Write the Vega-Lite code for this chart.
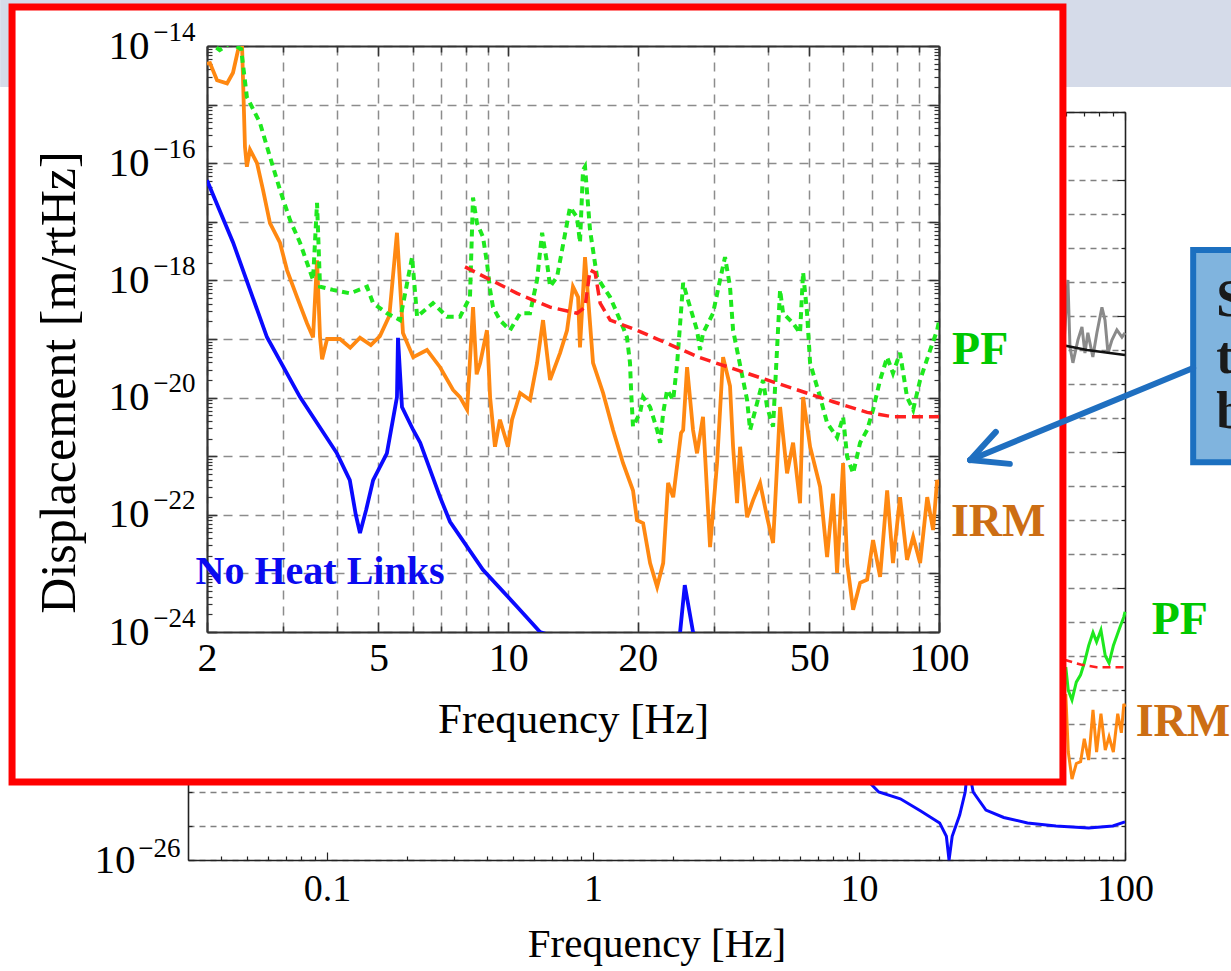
{
"$schema": "https://vega.github.io/schema/vega-lite/v6.json",
"padding": {"left": 207, "top": 45, "right": 1024, "bottom": 926},
"autosize": {"type": "none"},
"background": "#ffffff",
"spacing": 0,
"bounds": "flush",
"config": {
  "view": {"stroke": null},
  "axis": {"labelFont": "Liberation Serif", "titleFont": "Liberation Serif", "labelColor": "#000000", "titleColor": "#000000", "titleFontWeight": "normal", "labelFlush": false, "labelOverlap": false}
},
"datasets": {
"blue": [{"f":2.0,"d":5.1e-17},{"f":2.30,"d":4.4e-18},{"f":2.756,"d":1.07e-19},{"f":3.288,"d":1.02e-20},{"f":4.005,"d":1.12e-21},{"f":4.29,"d":3.9e-22},{"f":4.43,"d":1.0e-22},{"f":4.53,"d":4.9e-23},{"f":4.68,"d":1.2e-22},{"f":4.86,"d":3.9e-22},{"f":5.23,"d":1.12e-21},{"f":5.52,"d":1.02e-20},{"f":5.55,"d":1.05e-19},{"f":5.67,"d":6.9e-21},{"f":6.02,"d":2.8e-21},{"f":6.25,"d":1.7e-21},{"f":6.95,"d":2.0e-22},{"f":7.33,"d":7.6e-23},{"f":8.74,"d":1.15e-23},{"f":10.49,"d":2.7e-24},{"f":11.86,"d":1.0e-24},{"f":14.3,"d":6.3e-25},{"f":17.0,"d":2.8e-25},{"f":20.1,"d":1.23e-25},{"f":21.3,"d":5.0e-26},{"f":21.8,"d":1.0e-26},{"f":22.4,"d":5.0e-26},{"f":23.9,"d":2.1e-25},{"f":25.07,"d":1.0e-24},{"f":25.7,"d":6.3e-24},{"f":26.86,"d":1.0e-24},{"f":30.0,"d":2.95e-25},{"f":35,"d":1.78e-25},{"f":43,"d":1.23e-25},{"f":55,"d":1.0e-25},{"f":73,"d":8.7e-26},{"f":90,"d":1.0e-25},{"f":100,"d":1.32e-25}],
"orange": [{"f":2.0,"d":5.0e-15},{"f":2.032,"d":5.1e-15},{"f":2.11,"d":2.6e-15},{"f":2.226,"d":2.3e-15},{"f":2.298,"d":3.5e-15},{"f":2.361,"d":8.5e-15},{"f":2.41,"d":1.26e-14},{"f":2.45,"d":1.9e-16},{"f":2.475,"d":8.7e-17},{"f":2.517,"d":1.7e-16},{"f":2.613,"d":1.0e-16},{"f":2.698,"d":3.5e-17},{"f":2.80,"d":9.5e-18},{"f":2.954,"d":4.4e-18},{"f":3.067,"d":1.5e-18},{"f":3.236,"d":5.2e-19},{"f":3.413,"d":1.86e-19},{"f":3.525,"d":1.07e-19},{"f":3.601,"d":2.2e-18},{"f":3.659,"d":1.07e-19},{"f":3.70,"d":4.5e-20},{"f":3.80,"d":1.0e-19},{"f":4.07,"d":1.0e-19},{"f":4.30,"d":7.1e-20},{"f":4.53,"d":1.05e-19},{"f":4.80,"d":7.9e-20},{"f":5.04,"d":1.12e-19},{"f":5.30,"d":2.5e-19},{"f":5.52,"d":6.5e-18},{"f":5.70,"d":1.26e-19},{"f":6.02,"d":4.9e-20},{"f":6.48,"d":6.5e-20},{"f":6.95,"d":3.3e-20},{"f":7.45,"d":1.35e-20},{"f":7.73,"d":1.02e-20},{"f":8.03,"d":6.2e-21},{"f":8.29,"d":3.5e-19},{"f":8.45,"d":2.5e-20},{"f":8.61,"d":3.9e-20},{"f":8.93,"d":1.41e-19},{"f":9.08,"d":1.02e-20},{"f":9.32,"d":1.45e-21},{"f":9.57,"d":4.2e-21},{"f":9.99,"d":1.45e-21},{"f":10.21,"d":4.2e-21},{"f":10.66,"d":1.2e-20},{"f":11.24,"d":9.1e-21},{"f":11.67,"d":3.9e-20},{"f":12.05,"d":2.1e-19},{"f":12.51,"d":2.0e-20},{"f":13.20,"d":5.8e-20},{"f":13.70,"d":1.41e-19},{"f":14.14,"d":7.8e-19},{"f":14.53,"d":5.2e-19},{"f":14.68,"d":7.2e-20},{"f":15.08,"d":2.5e-18},{"f":15.74,"d":3.9e-20},{"f":16.61,"d":1.2e-20},{"f":17.52,"d":2.8e-21},{"f":18.48,"d":7.6e-22},{"f":19.49,"d":2.6e-22},{"f":19.91,"d":8.1e-23},{"f":20.57,"d":7.2e-23},{"f":21.35,"d":1.5e-23},{"f":22.17,"d":5.9e-24},{"f":22.90,"d":1.5e-23},{"f":23.51,"d":3.5e-22},{"f":24.16,"d":2.0e-22},{"f":25.20,"d":2.5e-21},{"f":25.48,"d":2.8e-21},{"f":26.02,"d":3.3e-20},{"f":26.86,"d":2.8e-21},{"f":27.44,"d":1.12e-21},{"f":28.33,"d":4.7e-21},{"f":29.42,"d":2.8e-23},{"f":30.54,"d":7.6e-22},{"f":31.54,"d":4.9e-20},{"f":32.73,"d":1.58e-20},{"f":33.27,"d":1.45e-21},{"f":33.99,"d":1.58e-22},{"f":34.54,"d":1.45e-21},{"f":35.86,"d":9.1e-23},{"f":37.03,"d":1.78e-22},{"f":38.44,"d":3.5e-22},{"f":39.90,"d":9.1e-23},{"f":41.20,"d":3.3e-23},{"f":42.77,"d":6.9e-21},{"f":44.40,"d":5.1e-22},{"f":45.85,"d":1.7e-21},{"f":47.59,"d":1.58e-22},{"f":48.37,"d":1.02e-20},{"f":50.21,"d":1.45e-21},{"f":52.97,"d":3.0e-22},{"f":54.99,"d":1.9e-23},{"f":56.76,"d":2.3e-22},{"f":58.0,"d":1.02e-23},{"f":59.9,"d":7.6e-22},{"f":61.2,"d":1.5e-23},{"f":63.2,"d":2.4e-24},{"f":65.6,"d":6.9e-24},{"f":68.1,"d":7.8e-24},{"f":70.3,"d":3.7e-23},{"f":73.0,"d":8.7e-24},{"f":75.8,"d":2.6e-22},{"f":78.2,"d":1.5e-23},{"f":81.2,"d":2.0e-22},{"f":84.3,"d":1.7e-23},{"f":87.1,"d":4.2e-23},{"f":90.4,"d":1.5e-23},{"f":93.9,"d":2.0e-22},{"f":96.9,"d":5.5e-23},{"f":99.0,"d":3.9e-22},{"f":100,"d":3.2e-22}],
"green": [{"f":2.0,"d":1.26e-14},{"f":2.14,"d":8.5e-15},{"f":2.26,"d":1.12e-14},{"f":2.40,"d":8.9e-15},{"f":2.475,"d":1.35e-15},{"f":2.654,"d":4.9e-16},{"f":2.80,"d":1.29e-16},{"f":2.954,"d":3.5e-17},{"f":3.117,"d":1.07e-17},{"f":3.288,"d":4.4e-18},{"f":3.413,"d":2.0e-18},{"f":3.525,"d":1.02e-18},{"f":3.601,"d":2.1e-17},{"f":3.659,"d":7.8e-19},{"f":3.921,"d":6.9e-19},{"f":4.295,"d":6.0e-19},{"f":4.703,"d":7.8e-19},{"f":4.857,"d":4.1e-19},{"f":5.234,"d":2.75e-19},{"f":5.610,"d":2.1e-19},{"f":5.985,"d":2.5e-18},{"f":6.147,"d":2.4e-19},{"f":6.692,"d":4.1e-19},{"f":7.214,"d":2.4e-19},{"f":7.733,"d":2.4e-19},{"f":8.155,"d":5.2e-19},{"f":8.287,"d":2.6e-17},{"f":8.465,"d":9.5e-18},{"f":8.742,"d":5.5e-18},{"f":8.93,"d":2.0e-18},{"f":9.08,"d":6.9e-19},{"f":9.22,"d":3.5e-19},{"f":9.57,"d":2.1e-19},{"f":10.10,"d":1.41e-19},{"f":10.66,"d":2.75e-19},{"f":11.24,"d":2.75e-19},{"f":11.67,"d":1.02e-18},{"f":11.99,"d":6.5e-18},{"f":12.31,"d":2.0e-18},{"f":12.51,"d":7.8e-19},{"f":12.99,"d":1.15e-18},{"f":13.70,"d":9.5e-18},{"f":13.92,"d":1.78e-17},{"f":14.45,"d":1.2e-17},{"f":14.68,"d":4.4e-18},{"f":14.92,"d":7.6e-17},{"f":15.08,"d":8.7e-17},{"f":15.49,"d":7.2e-18},{"f":16.08,"d":1.15e-18},{"f":16.61,"d":7.8e-19},{"f":17.24,"d":5.2e-19},{"f":17.90,"d":2.75e-19},{"f":18.48,"d":1.58e-19},{"f":18.87,"d":1.07e-19},{"f":19.18,"d":3.9e-20},{"f":19.30,"d":1.2e-20},{"f":19.49,"d":3.2e-21},{"f":20.24,"d":5.5e-21},{"f":20.57,"d":1.02e-20},{"f":21.35,"d":6.9e-21},{"f":22.17,"d":2.8e-21},{"f":22.53,"d":1.7e-21},{"f":22.90,"d":5.5e-21},{"f":23.39,"d":1.35e-20},{"f":24.16,"d":9.1e-21},{"f":24.68,"d":3.9e-20},{"f":25.48,"d":9.1e-19},{"f":26.02,"d":5.2e-19},{"f":27.44,"d":1.41e-19},{"f":27.88,"d":6.5e-20},{"f":28.33,"d":1.26e-19},{"f":29.89,"d":2.75e-19},{"f":31.03,"d":1.02e-18},{"f":31.87,"d":2.5e-18},{"f":32.73,"d":7.8e-19},{"f":33.27,"d":1.41e-19},{"f":35.86,"d":9.1e-21},{"f":36.44,"d":2.8e-21},{"f":39.05,"d":2.0e-20},{"f":39.90,"d":6.9e-21},{"f":41.20,"d":3.2e-21},{"f":42.77,"d":6.9e-19},{"f":43.46,"d":2.75e-19},{"f":45.85,"d":1.86e-19},{"f":47.59,"d":1.26e-19},{"f":48.37,"d":1.38e-18},{"f":49.41,"d":2.75e-19},{"f":50.21,"d":3.9e-20},{"f":52.97,"d":1.02e-20},{"f":54.99,"d":3.7e-21},{"f":58.0,"d":2.1e-21},{"f":59.9,"d":4.7e-21},{"f":61.2,"d":9.8e-22},{"f":63.2,"d":5.1e-22},{"f":65.6,"d":1.7e-21},{"f":68.1,"d":2.8e-21},{"f":70.3,"d":6.2e-21},{"f":73.0,"d":2.0e-20},{"f":75.8,"d":4.9e-20},{"f":78.2,"d":2.6e-20},{"f":81.2,"d":5.8e-20},{"f":84.3,"d":1.02e-20},{"f":87.1,"d":6.2e-21},{"f":90.4,"d":2.0e-20},{"f":95.4,"d":6.5e-20},{"f":99.0,"d":1.41e-19},{"f":100,"d":2.0e-19}],
"red": [{"f":7.94,"d":1.7e-18},{"f":10.49,"d":6.0e-19},{"f":12.51,"d":3.5e-19},{"f":14.45,"d":2.75e-19},{"f":15.08,"d":3.5e-19},{"f":15.49,"d":1.5e-18},{"f":15.92,"d":1.35e-18},{"f":16.35,"d":4.1e-19},{"f":17.25,"d":2.1e-19},{"f":19.91,"d":1.41e-19},{"f":27.88,"d":4.8e-20},{"f":39.9,"d":2.0e-20},{"f":56.8,"d":8.5e-21},{"f":68.1,"d":5.6e-21},{"f":78.2,"d":4.7e-21},{"f":100,"d":4.7e-21}],
"gray": [{"f":40,"d":1.3e-11},{"f":50,"d":1.26e-11},{"f":56,"d":2.5e-11},{"f":59,"d":1.6e-11},{"f":61,"d":1.15e-9},{"f":62.1,"d":1.23e-11},{"f":63.7,"d":4.2e-12},{"f":66.5,"d":1.95e-11},{"f":68.9,"d":4.8e-11},{"f":70.7,"d":8.1e-12},{"f":72.5,"d":3.2e-11},{"f":75.7,"d":6.2e-12},{"f":78.4,"d":3.2e-11},{"f":81.9,"d":1.8e-10},{"f":84.1,"d":7.6e-11},{"f":86.3,"d":8.1e-12},{"f":89.3,"d":1.95e-11},{"f":93.2,"d":3.9e-11},{"f":97.4,"d":2.4e-11},{"f":100,"d":3.2e-11}],
"black": [{"f":40,"d":2.5e-11},{"f":72,"d":1.0e-11},{"f":100,"d":7.1e-12}]
},
"vconcat": [
{
"width": 732,
"height": 1,
"layer": [
{"data": {"values": [{"x": 0.0059, "x2": 500, "y": 0.197, "y2": 0.00054}]},
 "mark": {"type": "rect", "color": "#d5dbe9"},
 "encoding": {
  "x": {"field": "x", "type": "quantitative", "scale": {"type": "log", "domain": [0.03, 100], "range": [-19, 918], "nice": false}, "axis": null},
  "x2": {"field": "x2"},
  "y": {"field": "y", "type": "quantitative", "scale": {"type": "log", "domain": [1e-26, 1e-4], "range": [815, 67], "nice": false}, "axis": null},
  "y2": {"field": "y2"}}},
{"data": {"name": "gray"},
 "mark": {"type": "line", "color": "#8a8a8a", "strokeWidth": 3},
 "encoding": {
  "x": {"field": "f", "type": "quantitative", "scale": {"type": "log", "domain": [0.03, 100], "range": [-19, 918], "nice": false},
   "axis": {"orient": "bottom", "offset": 814, "values": [0.04,0.05,0.06,0.07,0.08,0.09,0.1,0.2,0.3,0.4,0.5,0.6,0.7,0.8,0.9,1,2,3,4,5,6,7,8,9,10,20,30,40,50,60,70,80,90,100],
    "grid": true, "gridColor": "#808080", "gridDash": [6, 5], "gridWidth": 1.3, "labels": false, "ticks": true, "tickColor": "#222222", "tickWidth": 1.2,
    "tickSize": {"condition": {"test": "abs(log(datum.value)/LN10 - round(log(datum.value)/LN10)) < 0.001", "value": -8}, "value": -4},
    "domain": true, "domainColor": "#222222", "domainWidth": 1.6, "title": null}},
  "y": {"field": "d", "type": "quantitative", "scale": {"type": "log", "domain": [1e-26, 1e-4], "range": [815, 67], "nice": false},
   "axis": {"orient": "left", "offset": 19, "values": [1e-26,1e-25,1e-24,1e-23,1e-22,1e-21,1e-20,1e-19,1e-18,1e-17,1e-16,1e-15,1e-14,1e-13,1e-12,1e-11,1e-10,1e-9,1e-8,1e-7,1e-6,1e-5,1e-4],
    "grid": true, "gridColor": "#808080", "gridDash": [6, 5], "gridWidth": 1.3, "labels": false, "ticks": true, "tickColor": "#222222", "tickWidth": 1.2,
    "tickSize": {"condition": {"test": "(round(log(datum.value)/LN10) + 26) % 4 == 0", "value": -8}, "value": -4},
    "domain": true, "domainColor": "#222222", "domainWidth": 1.6, "title": null}}}},
{"data": {"name": "black"},
 "mark": {"type": "line", "color": "#111111", "strokeWidth": 2.5},
 "encoding": {
  "x": {"field": "f", "type": "quantitative", "scale": {"type": "log", "domain": [0.03, 100], "range": [-19, 918], "nice": false},
   "axis": {"orient": "bottom", "offset": 814, "values": [0.1, 1, 10, 100], "grid": false, "ticks": false, "domain": false, "labelExpr": "'' + datum.value",
    "labelFontSize": 38, "labelPadding": 10, "title": "Frequency [Hz]", "titleFontSize": 41, "titlePadding": 16}},
  "y": {"field": "d", "type": "quantitative", "scale": {"type": "log", "domain": [1e-26, 1e-4], "range": [815, 67], "nice": false},
   "axis": {"orient": "left", "offset": 19, "values": [1e-26, 1e-22, 1e-18, 1e-14, 1e-10, 1e-6], "grid": false, "ticks": false, "domain": false,
    "labelExpr": "'10'", "labelFontSize": 41, "labelPadding": 53, "labelAlign": "right", "labelBaseline": "middle", "title": null}}}},
{"data": {"name": "green"},
 "mark": {"type": "line", "color": "#1ee81e", "strokeWidth": 3},
 "encoding": {
  "x": {"field": "f", "type": "quantitative", "scale": {"type": "log", "domain": [0.03, 100], "range": [-19, 918], "nice": false},
   "axis": {"orient": "top", "offset": -67, "values": [0.04,0.05,0.06,0.07,0.08,0.09,0.1,0.2,0.3,0.4,0.5,0.6,0.7,0.8,0.9,1,2,3,4,5,6,7,8,9,10,20,30,40,50,60,70,80,90,100],
    "grid": false, "labels": false, "ticks": true, "tickColor": "#222222", "tickWidth": 1.2,
    "tickSize": {"condition": {"test": "abs(log(datum.value)/LN10 - round(log(datum.value)/LN10)) < 0.001", "value": -8}, "value": -4},
    "domain": true, "domainColor": "#222222", "domainWidth": 1.6, "title": null}},
  "y": {"field": "d", "type": "quantitative", "scale": {"type": "log", "domain": [1e-26, 1e-4], "range": [815, 67], "nice": false},
   "axis": {"orient": "left", "offset": 19, "values": [1e-26, 1e-22, 1e-18, 1e-14, 1e-10, 1e-6], "grid": false, "ticks": false, "domain": false,
    "labelExpr": "'\u2212' + format(-round(log(datum.value)/LN10), 'd')", "labelFontSize": 27, "labelPadding": 8, "labelOffset": -12, "labelAlign": "right", "labelBaseline": "middle", "title": null}}}},
{"data": {"name": "red"},
 "mark": {"type": "line", "color": "#ff2020", "strokeWidth": 2.5, "strokeDash": [8, 5]},
 "encoding": {
  "x": {"field": "f", "type": "quantitative", "scale": {"type": "log", "domain": [0.03, 100], "range": [-19, 918], "nice": false}, "axis": null},
  "y": {"field": "d", "type": "quantitative", "scale": {"type": "log", "domain": [1e-26, 1e-4], "range": [815, 67], "nice": false},
   "axis": {"orient": "right", "offset": 186, "values": [1e-26,1e-25,1e-24,1e-23,1e-22,1e-21,1e-20,1e-19,1e-18,1e-17,1e-16,1e-15,1e-14,1e-13,1e-12,1e-11,1e-10,1e-9,1e-8,1e-7,1e-6,1e-5,1e-4],
    "grid": false, "labels": false, "ticks": true, "tickColor": "#222222", "tickWidth": 1.2,
    "tickSize": {"condition": {"test": "(round(log(datum.value)/LN10) + 26) % 4 == 0", "value": -8}, "value": -4},
    "domain": true, "domainColor": "#222222", "domainWidth": 1.6, "title": null}}}},
{"data": {"name": "orange"},
 "mark": {"type": "line", "color": "#ff8811", "strokeWidth": 3},
 "encoding": {
  "x": {"field": "f", "type": "quantitative", "scale": {"type": "log", "domain": [0.03, 100], "range": [-19, 918], "nice": false}, "axis": null},
  "y": {"field": "d", "type": "quantitative", "scale": {"type": "log", "domain": [1e-26, 1e-4], "range": [815, 67], "nice": false}, "axis": null}}},
{"data": {"name": "blue"},
 "mark": {"type": "line", "color": "#0a0aff", "strokeWidth": 3},
 "encoding": {
  "x": {"field": "f", "type": "quantitative", "scale": {"type": "log", "domain": [0.03, 100], "range": [-19, 918], "nice": false}, "axis": null},
  "y": {"field": "d", "type": "quantitative", "scale": {"type": "log", "domain": [1e-26, 1e-4], "range": [815, 67], "nice": false}, "axis": null}}},
{"data": {"values": [{"label": "PF", "f": 160.8, "d": 1.15e-19}]},
 "mark": {"type": "text", "color": "#00c800", "font": "Liberation Serif", "fontWeight": "bold", "fontSize": 46, "align": "center", "baseline": "middle"},
 "encoding": {
  "x": {"field": "f", "type": "quantitative", "scale": {"type": "log", "domain": [0.03, 100], "range": [-19, 918], "nice": false}, "axis": null},
  "y": {"field": "d", "type": "quantitative", "scale": {"type": "log", "domain": [1e-26, 1e-4], "range": [815, 67], "nice": false}, "axis": null},
  "text": {"field": "label"}}},
{"data": {"values": [{"label": "IRM", "f": 165.1, "d": 1.15e-22}]},
 "mark": {"type": "text", "color": "#cc6e14", "font": "Liberation Serif", "fontWeight": "bold", "fontSize": 46, "align": "center", "baseline": "middle"},
 "encoding": {
  "x": {"field": "f", "type": "quantitative", "scale": {"type": "log", "domain": [0.03, 100], "range": [-19, 918], "nice": false}, "axis": null},
  "y": {"field": "d", "type": "quantitative", "scale": {"type": "log", "domain": [1e-26, 1e-4], "range": [815, 67], "nice": false}, "axis": null},
  "text": {"field": "label"}}},
{"data": {"values": [{"x": 0.00654, "x2": 58.43, "y": 0.1225, "y2": 1.97e-24}]},
 "mark": {"type": "rect", "fill": "#ffffff", "stroke": "#ff0000", "strokeWidth": 7},
 "encoding": {
  "x": {"field": "x", "type": "quantitative", "scale": {"type": "log", "domain": [0.03, 100], "range": [-19, 918], "nice": false}, "axis": null},
  "x2": {"field": "x2"},
  "y": {"field": "y", "type": "quantitative", "scale": {"type": "log", "domain": [1e-26, 1e-4], "range": [815, 67], "nice": false}, "axis": null},
  "y2": {"field": "y2"}}}
],
"resolve": {"axis": {"x": "independent", "y": "independent"}}
},
{
"width": 732,
"height": 586,
"layer": [
{"data": {"name": "blue"},
 "mark": {"type": "line", "color": "#0a0aff", "strokeWidth": 3.8, "clip": true},
 "encoding": {
  "x": {"field": "f", "type": "quantitative", "scale": {"type": "log", "domain": [2, 100], "range": [0, 732], "nice": false},
   "axis": {"orient": "bottom", "values": [2,3,4,5,6,7,8,9,10,20,30,40,50,60,70,80,90,100],
    "grid": true, "gridColor": "#8c8c8c", "gridDash": [9, 7], "gridWidth": 1.5, "labels": false, "ticks": true, "tickColor": "#333333", "tickWidth": 1.5,
    "tickSize": {"condition": {"test": "indexof([2,5,10,20,50,100], datum.value) >= 0", "value": -10}, "value": -6},
    "domain": true, "domainColor": "#333333", "domainWidth": 2.2, "title": null}},
  "y": {"field": "d", "type": "quantitative", "scale": {"type": "log", "domain": [1e-24, 1e-14], "range": [586, 0], "nice": false},
   "axis": {"orient": "left", "values": [1e-24,1e-23,1e-22,1e-21,1e-20,1e-19,1e-18,1e-17,1e-16,1e-15,1e-14],
    "grid": true, "gridColor": "#8c8c8c", "gridDash": [9, 7], "gridWidth": 1.5, "labels": false, "ticks": true, "tickColor": "#333333", "tickWidth": 1.5, "tickSize": -10,
    "domain": true, "domainColor": "#333333", "domainWidth": 2.2, "title": null}}}},
{"data": {"name": "orange"},
 "mark": {"type": "line", "color": "#ff8811", "strokeWidth": 3.8, "clip": true},
 "encoding": {
  "x": {"field": "f", "type": "quantitative", "scale": {"type": "log", "domain": [2, 100], "range": [0, 732], "nice": false},
   "axis": {"orient": "bottom", "values": [2, 5, 10, 20, 50, 100], "grid": false, "ticks": false, "domain": false, "labelExpr": "'' + datum.value",
    "labelFontSize": 40, "labelPadding": 6, "title": "Frequency [Hz]", "titleFontSize": 43, "titlePadding": 20}},
  "y": {"field": "d", "type": "quantitative", "scale": {"type": "log", "domain": [1e-24, 1e-14], "range": [586, 0], "nice": false},
   "axis": {"orient": "left", "values": [1e-24, 1e-22, 1e-20, 1e-18, 1e-16, 1e-14], "grid": false, "ticks": false, "domain": false,
    "labelExpr": "'10'", "labelFontSize": 41, "labelPadding": 58, "labelAlign": "right", "labelBaseline": "middle",
    "title": "Displacement [m/rtHz]", "titleFontSize": 50, "titlePadding": 24, "titleY": 336}}}},
{"data": {"name": "green"},
 "mark": {"type": "line", "color": "#1ee81e", "strokeWidth": 4, "strokeDash": [7, 5], "clip": true},
 "encoding": {
  "x": {"field": "f", "type": "quantitative", "scale": {"type": "log", "domain": [2, 100], "range": [0, 732], "nice": false},
   "axis": {"orient": "top", "values": [2,3,4,5,6,7,8,9,10,20,30,40,50,60,70,80,90,100],
    "grid": false, "labels": false, "ticks": true, "tickColor": "#333333", "tickWidth": 1.5,
    "tickSize": {"condition": {"test": "indexof([2,5,10,20,50,100], datum.value) >= 0", "value": -10}, "value": -6},
    "domain": true, "domainColor": "#333333", "domainWidth": 2.2, "title": null}},
  "y": {"field": "d", "type": "quantitative", "scale": {"type": "log", "domain": [1e-24, 1e-14], "range": [586, 0], "nice": false},
   "axis": {"orient": "left", "values": [1e-24, 1e-22, 1e-20, 1e-18, 1e-16, 1e-14], "grid": false, "ticks": false, "domain": false,
    "labelExpr": "'\u2212' + format(-round(log(datum.value)/LN10), 'd')", "labelFontSize": 27, "labelPadding": 12, "labelOffset": -14, "labelAlign": "right", "labelBaseline": "middle", "title": null}}}},
{"data": {"name": "red"},
 "mark": {"type": "line", "color": "#ff2020", "strokeWidth": 3.5, "strokeDash": [11, 6], "clip": true},
 "encoding": {
  "x": {"field": "f", "type": "quantitative", "scale": {"type": "log", "domain": [2, 100], "range": [0, 732], "nice": false}, "axis": null},
  "y": {"field": "d", "type": "quantitative", "scale": {"type": "log", "domain": [1e-24, 1e-14], "range": [586, 0], "nice": false},
   "axis": {"orient": "right", "values": [1e-24,1e-23,1e-22,1e-21,1e-20,1e-19,1e-18,1e-17,1e-16,1e-15,1e-14],
    "grid": false, "labels": false, "ticks": true, "tickColor": "#333333", "tickWidth": 1.5, "tickSize": -10,
    "domain": true, "domainColor": "#333333", "domainWidth": 2.2, "title": null}}}},
{"data": {"values": [{"label": "No Heat Links", "f": 3.66, "d": 1.05e-23}]},
 "mark": {"type": "text", "color": "#0a0af0", "font": "Liberation Serif", "fontWeight": "bold", "fontSize": 40, "align": "center", "baseline": "middle"},
 "encoding": {
  "x": {"field": "f", "type": "quantitative", "scale": {"type": "log", "domain": [2, 100], "range": [0, 732], "nice": false}, "axis": null},
  "y": {"field": "d", "type": "quantitative", "scale": {"type": "log", "domain": [1e-24, 1e-14], "range": [586, 0], "nice": false},
   "axis": {"orient": "left", "values": [2e-24,3e-24,4e-24,5e-24,6e-24,7e-24,8e-24,9e-24,2e-23,3e-23,4e-23,5e-23,6e-23,7e-23,8e-23,9e-23,2e-22,3e-22,4e-22,5e-22,6e-22,7e-22,8e-22,9e-22,2e-21,3e-21,4e-21,5e-21,6e-21,7e-21,8e-21,9e-21,2e-20,3e-20,4e-20,5e-20,6e-20,7e-20,8e-20,9e-20,2e-19,3e-19,4e-19,5e-19,6e-19,7e-19,8e-19,9e-19,2e-18,3e-18,4e-18,5e-18,6e-18,7e-18,8e-18,9e-18,2e-17,3e-17,4e-17,5e-17,6e-17,7e-17,8e-17,9e-17,2e-16,3e-16,4e-16,5e-16,6e-16,7e-16,8e-16,9e-16,2e-15,3e-15,4e-15,5e-15,6e-15,7e-15,8e-15,9e-15],
    "grid": false, "labels": false, "ticks": true, "tickColor": "#333333", "tickWidth": 1.2, "tickSize": -5, "domain": false, "title": null}},
  "text": {"field": "label"}}},
{"data": {"values": [{"label": "PF", "f": 124.6, "d": 6.5e-20}]},
 "mark": {"type": "text", "color": "#00c800", "font": "Liberation Serif", "fontWeight": "bold", "fontSize": 46, "align": "center", "baseline": "middle"},
 "encoding": {
  "x": {"field": "f", "type": "quantitative", "scale": {"type": "log", "domain": [2, 100], "range": [0, 732], "nice": false}, "axis": null},
  "y": {"field": "d", "type": "quantitative", "scale": {"type": "log", "domain": [1e-24, 1e-14], "range": [586, 0], "nice": false},
   "axis": {"orient": "right", "values": [2e-24,3e-24,4e-24,5e-24,6e-24,7e-24,8e-24,9e-24,2e-23,3e-23,4e-23,5e-23,6e-23,7e-23,8e-23,9e-23,2e-22,3e-22,4e-22,5e-22,6e-22,7e-22,8e-22,9e-22,2e-21,3e-21,4e-21,5e-21,6e-21,7e-21,8e-21,9e-21,2e-20,3e-20,4e-20,5e-20,6e-20,7e-20,8e-20,9e-20,2e-19,3e-19,4e-19,5e-19,6e-19,7e-19,8e-19,9e-19,2e-18,3e-18,4e-18,5e-18,6e-18,7e-18,8e-18,9e-18,2e-17,3e-17,4e-17,5e-17,6e-17,7e-17,8e-17,9e-17,2e-16,3e-16,4e-16,5e-16,6e-16,7e-16,8e-16,9e-16,2e-15,3e-15,4e-15,5e-15,6e-15,7e-15,8e-15,9e-15],
    "grid": false, "labels": false, "ticks": true, "tickColor": "#333333", "tickWidth": 1.2, "tickSize": -5, "domain": false, "title": null}},
  "text": {"field": "label"}}},
{"data": {"values": [{"label": "IRM", "f": 137.2, "d": 7.6e-23}]},
 "mark": {"type": "text", "color": "#cc6e14", "font": "Liberation Serif", "fontWeight": "bold", "fontSize": 46, "align": "center", "baseline": "middle"},
 "encoding": {
  "x": {"field": "f", "type": "quantitative", "scale": {"type": "log", "domain": [2, 100], "range": [0, 732], "nice": false}, "axis": null},
  "y": {"field": "d", "type": "quantitative", "scale": {"type": "log", "domain": [1e-24, 1e-14], "range": [586, 0], "nice": false}, "axis": null},
  "text": {"field": "label"}}},
{"data": {"values": [{"x": 389, "x2": 560, "y": 3.3e-18, "y2": 7.9e-22}]},
 "mark": {"type": "rect", "fill": "#80b4de", "stroke": "#1c70c0", "strokeWidth": 6},
 "encoding": {
  "x": {"field": "x", "type": "quantitative", "scale": {"type": "log", "domain": [2, 100], "range": [0, 732], "nice": false}, "axis": null},
  "x2": {"field": "x2"},
  "y": {"field": "y", "type": "quantitative", "scale": {"type": "log", "domain": [1e-24, 1e-14], "range": [586, 0], "nice": false}, "axis": null},
  "y2": {"field": "y2"}}},
{"data": {"values": [{"t": "S", "x": 439.8, "y": 4.6e-19}, {"t": "t", "x": 439.8, "y": 4.9e-20}, {"t": "b", "x": 439.8, "y": 5.7e-21}]},
 "mark": {"type": "text", "color": "#1a1a1a", "font": "Liberation Serif", "fontWeight": "bold", "fontSize": 52, "align": "left", "baseline": "middle"},
 "encoding": {
  "x": {"field": "x", "type": "quantitative", "scale": {"type": "log", "domain": [2, 100], "range": [0, 732], "nice": false}, "axis": null},
  "y": {"field": "y", "type": "quantitative", "scale": {"type": "log", "domain": [1e-24, 1e-14], "range": [586, 0], "nice": false}, "axis": null},
  "text": {"field": "t"}}},
{"data": {"values": [{"x": 389, "y": 3.2e-20, "x2": 118.1, "y2": 8.6e-22}, {"x": 118.1, "y": 8.6e-22, "x2": 135.5, "y2": 2.6e-21}, {"x": 118.1, "y": 8.6e-22, "x2": 146.0, "y2": 7.4e-22}]},
 "mark": {"type": "rule", "color": "#1f6fc0", "strokeWidth": 6, "strokeCap": "round"},
 "encoding": {
  "x": {"field": "x", "type": "quantitative", "scale": {"type": "log", "domain": [2, 100], "range": [0, 732], "nice": false}, "axis": null},
  "x2": {"field": "x2"},
  "y": {"field": "y", "type": "quantitative", "scale": {"type": "log", "domain": [1e-24, 1e-14], "range": [586, 0], "nice": false}, "axis": null},
  "y2": {"field": "y2"}}}
],
"resolve": {"axis": {"x": "independent", "y": "independent"}}
}
]
}
